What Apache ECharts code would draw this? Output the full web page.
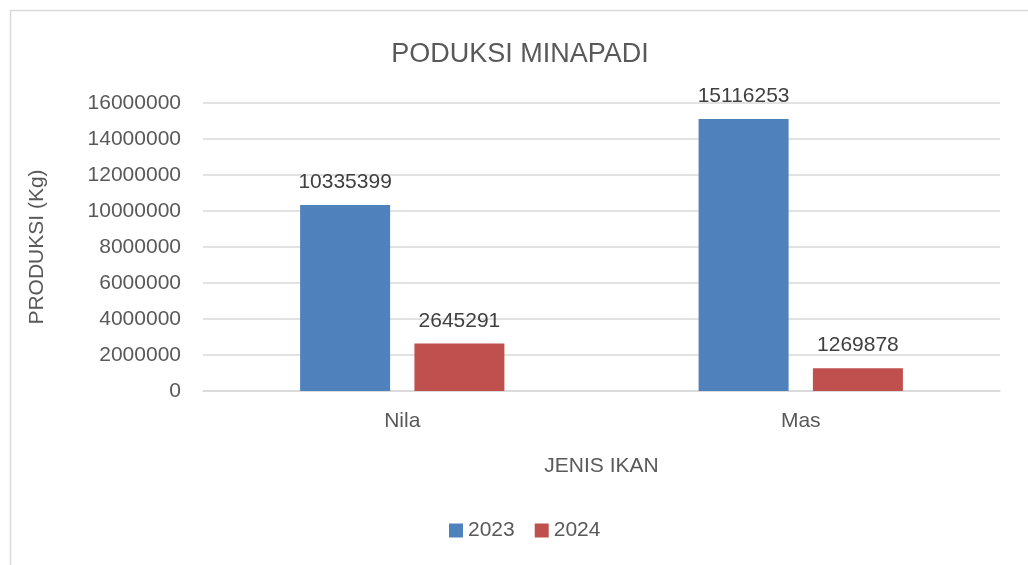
<!DOCTYPE html>
<html><head><meta charset="utf-8">
<script src="https://cdn.jsdelivr.net/npm/echarts@6/dist/echarts.min.js"></script>
<style>html,body{margin:0;padding:0;background:#fff}#c{width:1028px;height:565px}</style>
</head><body><div id="c"></div>
<script>
const categories = ['Nila', 'Mas'];
const series2023 = [10335399, 15116253];
const series2024 = [2645291, 1269878];
const yTicks = { min: 0, max: 16000000, interval: 2000000 };

const FONT = '"Liberation Sans", "Noto Sans", sans-serif';
const chart = echarts.init(document.getElementById('c'));
chart.setOption({
  animation: false,
  backgroundColor: '#fff',
  graphic: [{ type: 'rect', shape: { x: 10.5, y: 10.5, width: 1100, height: 700 },
    style: { fill: 'none', stroke: '#d9d9d9', lineWidth: 1.5 }, silent: true }],
  title: { text: 'PODUKSI MINAPADI', left: 515, top: 36, textAlign: 'center',
    textStyle: { fontFamily: FONT, fontSize: 27, fontWeight: 'normal', color: '#595959' } },
  legend: { bottom: 19, left: 444, itemWidth: 14, itemHeight: 14, itemGap: 20, icon: 'rect',
    textStyle: { fontFamily: FONT, fontSize: 21, color: '#595959' }, data: ['2023', '2024'] },
  grid: { left: 203, right: 28, top: 103, bottom: 174 },
  xAxis: { type: 'category', data: categories, name: 'JENIS IKAN', nameLocation: 'middle', nameGap: 65,
    nameTextStyle: { fontFamily: FONT, fontSize: 21, color: '#595959' },
    axisLine: { show: true, lineStyle: { color: '#d9d9d9', width: 1.5 } }, axisTick: { show: false },
    axisLabel: { fontFamily: FONT, fontSize: 21, color: '#595959', margin: 20 } },
  yAxis: { type: 'value', min: yTicks.min, max: yTicks.max, interval: yTicks.interval,
    name: 'PRODUKSI (Kg)', nameLocation: 'middle', nameGap: 155,
    nameTextStyle: { fontFamily: FONT, fontSize: 21, color: '#595959' },
    axisLine: { show: false }, axisTick: { show: false },
    axisLabel: { fontFamily: FONT, fontSize: 21, color: '#595959', margin: 22, formatter: v => String(v) },
    splitLine: { lineStyle: { color: '#d9d9d9', width: 1.5 } } },
  series: [
    { name: '2023', type: 'bar', data: series2023, barWidth: 90, barGap: '27%',
      itemStyle: { color: '#4f81bd' },
      label: { show: true, position: 'top', distance: 12, fontFamily: FONT, fontSize: 21, color: '#404040' } },
    { name: '2024', type: 'bar', data: series2024, barWidth: 90,
      itemStyle: { color: '#c0504d' },
      label: { show: true, position: 'top', distance: 12, fontFamily: FONT, fontSize: 21, color: '#404040' } }
  ]
});
</script></body></html>
